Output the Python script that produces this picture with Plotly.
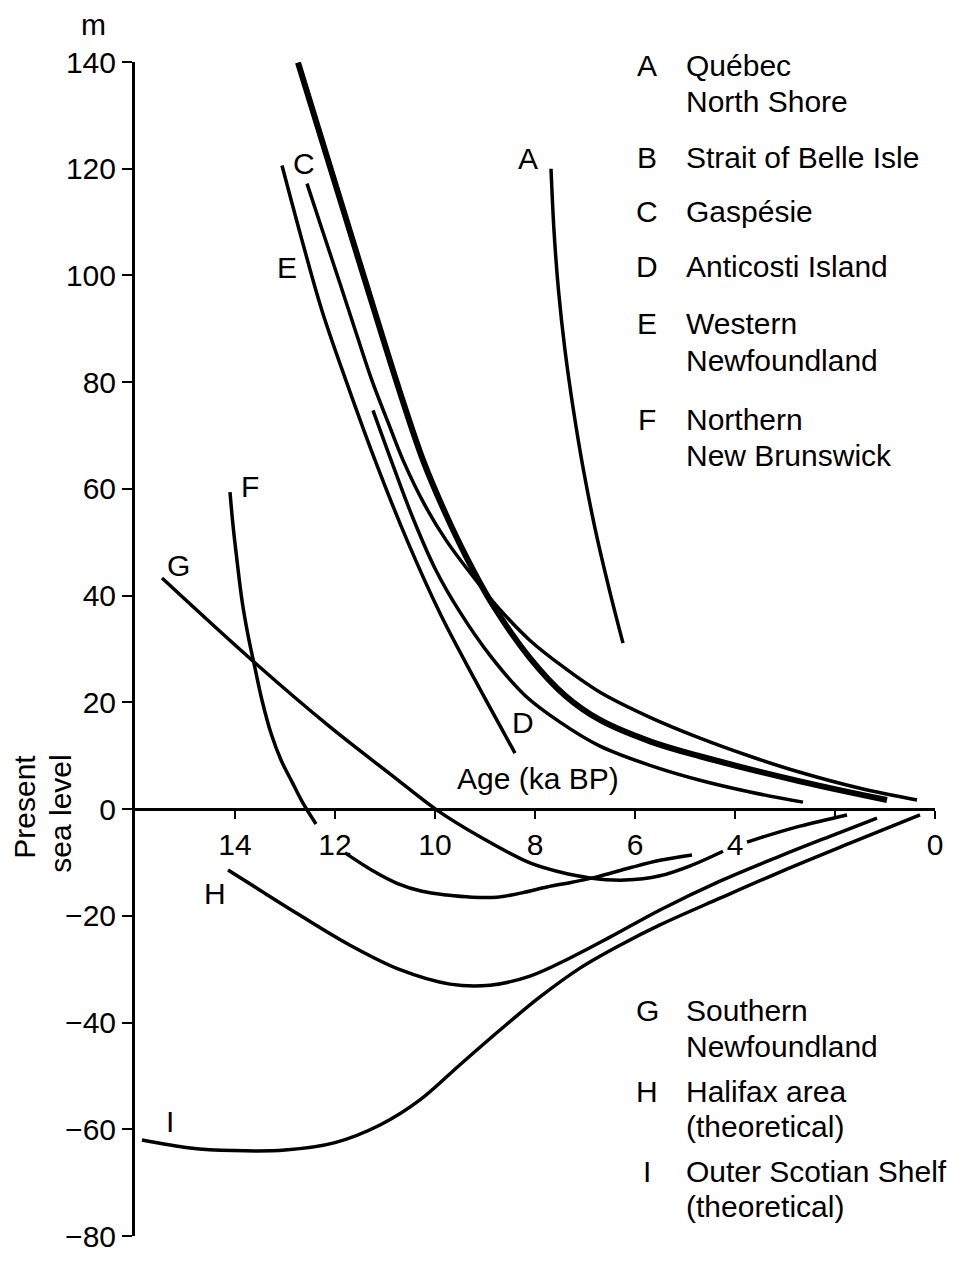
import plotly.graph_objects as go

# ---------------- data: age (ka BP) and elevation (m) ----------------
A_age = [7.68, 7.62, 7.53, 7.40, 7.23, 7.03, 6.79, 6.51, 6.24]
A_elev = [120.0, 108.4, 97.2, 86.0, 74.7, 63.5, 52.2, 41.0, 31.1]

B_age = [12.74, 12.10, 11.40, 10.70, 10.24, 9.80, 9.36, 8.84, 8.10, 7.40, 6.70, 5.70, 4.70, 2.70, 0.96]
B_elev = [139.9, 120.4, 99.1, 78.1, 65.4, 55.6, 47.0, 38.2, 28.3, 21.3, 16.7, 12.7, 9.9, 5.2, 1.7]

C_age = [12.56, 12.24, 11.90, 11.58, 11.26, 10.94, 10.64, 10.20, 9.78, 9.34, 8.74, 8.10,
         7.40, 6.70, 5.70, 4.70, 3.70, 2.70, 1.50, 0.36]
C_elev = [117.2, 108.1, 98.5, 89.3, 80.3, 72.5, 65.4, 56.9, 50.4, 44.8, 37.8, 31.6,
          26.4, 21.9, 17.2, 13.3, 9.9, 6.9, 3.9, 1.7]

D_age = [11.24, 10.84, 10.44, 10.00, 9.50, 8.90, 8.20, 7.50, 6.70, 5.70, 4.70, 3.70, 2.64]
D_elev = [74.7, 64.4, 54.5, 45.1, 36.9, 28.8, 21.3, 16.3, 11.8, 8.2, 5.4, 3.2, 1.3]

E_age = [13.06, 12.66, 12.26, 11.78, 11.20, 10.56, 9.90, 9.20, 8.40]
E_elev = [120.6, 106.6, 93.4, 80.3, 65.4, 50.4, 36.7, 24.2, 10.5]

F_age = [14.10, 14.04, 13.96, 13.86, 13.74, 13.60, 13.46, 13.28, 13.08, 12.86, 12.64, 12.38,
         None, 11.80, 11.20, 10.76, 10.26, 9.76, 9.26, 8.76, 8.26, 7.76, 7.26, 6.76, 6.10, 5.50, 4.86]
F_elev = [59.4, 53.2, 46.6, 39.1, 32.6, 26.4, 20.4, 14.2, 9.2, 5.1, 1.1, -2.8,
          None, -8.2, -11.8, -13.9, -15.4, -16.1, -16.5, -16.5, -15.7, -14.6, -13.7, -12.7, -11.0, -9.6, -8.6]

G_age = [15.46, 13.66, 12.10, 10.90, 9.96, 9.10, 8.10, 7.50, 6.90, 6.20, 5.50, 4.86, 4.24,
         None, 3.76, 3.50, 2.70, 1.76]
G_elev = [43.3, 27.9, 15.4, 6.6, -0.2, -5.2, -10.1, -11.8, -12.9, -13.3, -12.5, -10.5, -7.9,
          None, -6.2, -5.4, -3.2, -1.1]

H_age = [14.14, 13.50, 12.70, 11.70, 10.70, 9.70, 8.90, 8.10, 7.30, 6.50, 5.50, 4.30, 3.10, 2.10, 1.16]
H_elev = [-11.4, -15.2, -19.9, -25.5, -30.1, -32.8, -33.0, -31.3, -27.9, -24.0, -18.9, -13.5, -8.8, -5.1, -1.7]

I_age = [15.86, 14.90, 14.04, 13.00, 12.00, 11.10, 10.30, 9.50, 8.70, 7.90, 7.10, 6.30, 5.50,
         4.30, 3.10, 1.70, 0.30]
I_elev = [-62.0, -63.5, -64.0, -63.9, -62.5, -59.2, -54.5, -47.9, -41.4, -35.2, -29.8, -25.5, -21.7,
          -16.7, -11.8, -6.4, -1.1]

curve_names = ["A", "B", "C", "D", "E", "F", "G", "H", "I"]
curve_ages = [A_age, B_age, C_age, D_age, E_age, F_age, G_age, H_age, I_age]
curve_elevs = [A_elev, B_elev, C_elev, D_elev, E_elev, F_elev, G_elev, H_elev, I_elev]

# curve letter labels (age, elevation)
label_age = [8.14, 12.36, 12.62, 8.24, 12.96, 13.70, 15.14, 14.40, 15.30]
label_elev = [122, 142, 121, 16.3, 101.5, 60.5, 45.7, -15.9, -58.5]

# x / y ticks (the "2" label is hidden under the curves in the original)
x_ticks = [0, 2, 4, 6, 8, 10, 12, 14]
x_tick_text = ["0", "", "4", "6", "8", "10", "12", "14"]
y_ticks = [-80, -60, -40, -20, 0, 20, 40, 60, 80, 100, 120, 140]

# legend
legend_letters = ["A", "B", "C", "D", "E", "F", "G", "H", "I"]
legend_names = [
    ["Québec", "North Shore"],
    ["Strait of Belle Isle"],
    ["Gaspésie"],
    ["Anticosti Island"],
    ["Western", "Newfoundland"],
    ["Northern", "New Brunswick"],
    ["Southern", "Newfoundland"],
    ["Halifax area", "(theoretical)"],
    ["Outer Scotian Shelf", "(theoretical)"],
]

# ---------------- layout geometry (pixels) ----------------
W, H = 962, 1265
L, R, T, Bm = 135, 27, 62, 27
PW, PH = W - L - R, H - T - Bm
X_RANGE = [16, 0]
Y_RANGE = [-80, 140]
FONT = "Liberation Sans, Arial, Helvetica, sans-serif"
FS = 30


def px_x(px):
    return (px - L) / PW


def px_y(py):
    return (H - Bm - py) / PH


def txt(x, y, text, xanchor="center", yanchor="middle", ref="paper", angle=0):
    return dict(x=x, y=y, xref="paper" if ref == "paper" else "x",
                yref="paper" if ref == "paper" else "y", text=text, showarrow=False,
                xanchor=xanchor, yanchor=yanchor, textangle=angle,
                font=dict(size=FS, family=FONT, color="black"))


fig = go.Figure()
for name, xs, ys in zip(curve_names, curve_ages, curve_elevs):
    fig.add_trace(go.Scatter(
        x=xs, y=ys, mode="lines", name=name, connectgaps=False,
        line=dict(color="black", width=6 if name == "B" else 3.5, shape="spline", smoothing=1.0),
        showlegend=False, hoverinfo="skip",
    ))

ann = []
for t, a, e in zip(curve_names, label_age, label_elev):
    ann.append(txt(a, e, t, ref="data"))

# legend placements (pixel cap-centres of each line)
legend_rows = [[66, 101.5], [157.5], [211.5], [266.5], [324, 361.5], [420, 456],
               [1012.5, 1048.5], [1093, 1128], [1173, 1208]]
for letter, names, rows in zip(legend_letters, legend_names, legend_rows):
    ann.append(txt(px_x(647), px_y(rows[0]), letter))
    for nm, r in zip(names, rows):
        ann.append(txt(px_x(684), px_y(r), nm, xanchor="left"))

# axis texts
ann.append(txt(px_x(93), px_y(24), "m"))
ann.append(txt(px_x(538), px_y(780), "Age (ka BP)"))
ann.append(txt(px_x(25), px_y(808), "Present", angle=-90))
ann.append(txt(px_x(61), px_y(815), "sea level", angle=-90))

fig.update_layout(
    width=W, height=H,
    margin=dict(l=L, r=R, t=T, b=Bm, pad=0),
    paper_bgcolor="white", plot_bgcolor="white",
    font=dict(family=FONT, size=FS, color="black"),
    annotations=ann,
    xaxis=dict(range=X_RANGE, tickvals=x_ticks, ticktext=x_tick_text,
               showgrid=False, zeroline=False, showline=True, linecolor="black", linewidth=3,
               ticks="outside", ticklen=8, tickwidth=2, tickcolor="black",
               anchor="free", position=(0 - Y_RANGE[0]) / (Y_RANGE[1] - Y_RANGE[0]),
               tickfont=dict(size=FS, family=FONT, color="black")),
    yaxis=dict(range=Y_RANGE, tickvals=y_ticks,
               showgrid=False, zeroline=False, showline=True, linecolor="black", linewidth=3,
               ticks="outside", ticklen=10, tickwidth=2, tickcolor="black",
               tickfont=dict(size=FS, family=FONT, color="black")),
)

fig.write_html("out.html")
